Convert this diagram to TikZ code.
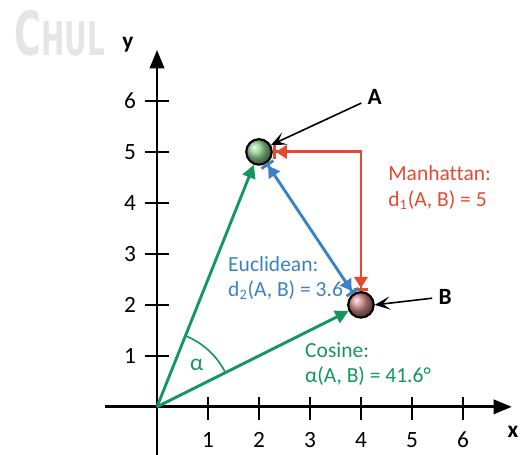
\documentclass[tikz,border=0pt]{standalone}
\usepackage{fontspec}
\setmainfont{Carlito}[Ligatures=NoCommon]
\newfontfamily\markfont{DejaVu Sans}
\usetikzlibrary{arrows.meta,positioning,shadings}
\definecolor{manred}{RGB}{226,75,50}
\definecolor{eucblue}{RGB}{60,130,195}
\definecolor{cosgreen}{RGB}{20,150,95}
\definecolor{ballgreen}{RGB}{140,205,140}
\definecolor{ballred}{RGB}{205,130,130}
\tikzset{
  ball/.style={circle,draw=black,line width=1.2pt,minimum size=5mm,inner sep=0pt},
  pointer/.style={line width=0.9pt,-{Stealth[length=3mm,width=2.6mm,inset=1.4mm]}},
  barred/.style={line width=1.6pt,{Bar[width=2.8mm,sep=0pt]Triangle[length=2.2mm,width=2.6mm,sep=0pt]}-{Triangle[length=2.2mm,width=2.6mm,sep=0pt]Bar[width=2.8mm,sep=0pt]}},
  vector/.style={cosgreen,line width=1.6pt,-{Triangle[length=2.6mm,width=2.6mm]}},
  metric/.style={anchor=west,inner sep=0pt,align=left,font=\fontsize{12}{14}\selectfont},
  ticklab/.style={font=\fontsize{13}{15}\selectfont}
}
\begin{document}
\begin{tikzpicture}
        \useasboundingbox (-3.08,-0.94) rectangle (7.12,7.98);
        \node[anchor=base west,inner sep=0pt,text=black!10,font=\markfont\bfseries] (mark) at (-2.80,6.90) {\scalebox{0.6}[1]{\fontsize{34}{34}\selectfont C\fontsize{26}{26}\selectfont HUL}};
        % axes
        \coordinate (o) at (0,0);
        \coordinate (xs) at (-1.02,0);
        \coordinate (xe) at (6.96,0);
        \coordinate (ys) at (0,-0.94);
        \coordinate (ye) at (0,7.0);
        \draw[line width=1.6pt,-{Triangle[length=3.6mm,width=2.8mm]}] (xs) -- (xe);
        \draw[line width=1.6pt,-{Triangle[length=3.6mm,width=2.8mm]}] (ys) -- (ye);
        \foreach \i in {1,...,6}{
          \draw[line width=1.1pt] (\i,-0.25) -- (\i,0.2);
          \draw[line width=1.1pt] (-0.24,\i) -- (0.24,\i);
          \node[ticklab] (xl\i) at (\i,-0.65) {\i};
          \node[ticklab] (yl\i) at (-0.53,\i) {\i};
        }
        \node[font=\bfseries\fontsize{13}{15}\selectfont] (xlab) at (6.98,-0.49) {x};
        \node[font=\bfseries\fontsize{13}{15}\selectfont] (ylab) at (-0.57,7.1) {y};
        % points
        \node[ball,ball color=ballgreen] (ptA) at (2,5) {};
        \node[ball,ball color=ballred] (ptB) at (4,2) {};
        \node[font=\bfseries\fontsize{13}{15}\selectfont] (labA) at (4.27,6.08) {A};
        \node[font=\bfseries\fontsize{13}{15}\selectfont] (labB) at (5.65,2.16) {B};
        \draw[pointer] (labA) -- (ptA.30);
        \draw[pointer] (labB) -- (ptB.east);
        % distances
        \draw[vector] (o) -- (ptA);
        \draw[vector] (o) -- (ptB);
        \draw[cosgreen,line width=0.9pt] (o) ++(26.57:1.5) arc[start angle=26.57,end angle=68.2,radius=1.5];
        \node[text=cosgreen,font=\fontsize{13}{15}\selectfont] (alpha) at (0.78,0.82) {α};
        \draw[barred,manred] (ptA.east) -| (ptB.north);
        \draw[barred,eucblue] (ptA) -- (ptB);
        \node[metric,text=manred] (man) at (4.53,4.30) {Manhattan:\\d\textsubscript{1}(A, B) = 5};
        \node[metric,text=eucblue] (euc) at (1.39,2.52) {Euclidean:\\d\textsubscript{2}(A, B) = 3.6};
        \node[metric,text=cosgreen] (cos) at (2.90,0.84) {Cosine:\\α(A, B) = 41.6°};
\end{tikzpicture}
\end{document}
